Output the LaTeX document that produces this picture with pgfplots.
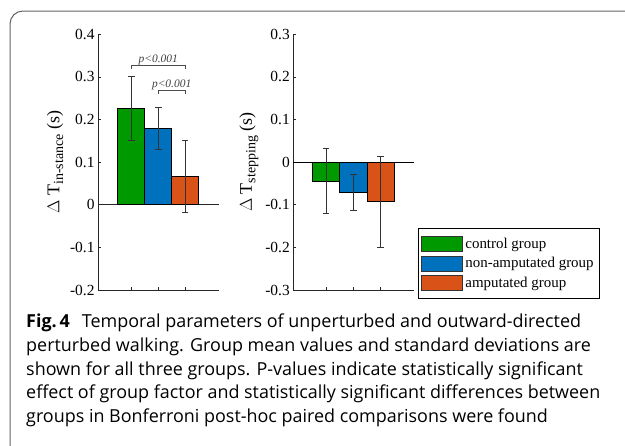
\documentclass[border=0pt]{standalone}
\usepackage{pgfplots}
\pgfplotsset{compat=1.18}
\usepackage{fontspec}
\setmainfont{Liberation Serif}
\newfontfamily\capfont{Open Sans}

\definecolor{cgreen}{RGB}{0,153,0}
\definecolor{cblue}{RGB}{0,114,189}
\definecolor{corange}{RGB}{217,83,25}
\definecolor{frame}{RGB}{100,100,100}

\pgfplotsset{
  barax/.style={
    scale only axis, width=121bp, height=255.7bp,
    axis x line*=bottom, axis y line*=left,
    axis line style={line width=0.8bp, black!85},
    tick style={line width=0.8bp, black!85},
    tick align=inside, major tick length=3bp,
    xtick={1,2,3}, xticklabels={},
    tick label style={font=\fontsize{15.5}{16}\selectfont},
    label style={font=\fontsize{18}{18}\selectfont},
    clip=false,
  },
  bars/.style={
    ybar, bar width=1, bar shift=0pt, draw=black, line width=0.8bp,
    error bars/y dir=both, error bars/y explicit,
    error bars/error bar style={line width=0.8bp, black!80},
    error bars/error mark options={rotate=90, mark size=3.3bp, line width=0.8bp, black!80},
  },
}

\begin{document}
\begin{tikzpicture}
\useasboundingbox (0,0) rectangle (625bp,-446bp);
\draw[frame, line width=1bp] (10bp,-446bp) -- (10bp,-24bp)
  arc[start angle=180, end angle=90, radius=13bp] -- (625bp,-11bp);

% left panel: in-stance
\begin{axis}[barax,
  at={(98bp,-290bp)}, anchor=south west,
  xmin=-0.238, xmax=4.26, ymin=-0.2, ymax=0.4,
  ytick={-0.2,-0.1,0,0.1,0.2,0.3,0.4},
  yticklabels={-0.2,-0.1,0,0.1,0.2,0.3,0.4},
  ylabel={$\Delta$ T\raisebox{-0.45ex}{\fontsize{14}{14}\selectfont in-stance} (s)},
]
\draw[black!85, line width=0.8bp] (axis cs:-0.238,0) -- (axis cs:4.26,0);
\addplot[bars, fill=cgreen] coordinates {(1,0.226) +- (0,0.076)};
\addplot[bars, fill=cblue] coordinates {(2,0.179) +- (0,0.049)};
\addplot[bars, fill=corange] coordinates {(3,0.066) +- (0,0.084)};
% significance brackets
\draw[black!70, line width=0.7bp] (axis cs:1,0.318) -- (axis cs:1,0.327) -- (axis cs:3,0.327) -- (axis cs:3,0.318);
\node[anchor=base, black!75, font=\fontsize{11.5}{12}\selectfont\itshape] at (axis cs:2,0.333) {p<0.001};
\draw[black!70, line width=0.7bp] (axis cs:2,0.260) -- (axis cs:2,0.269) -- (axis cs:3,0.269) -- (axis cs:3,0.260);
\node[anchor=base, black!75, font=\fontsize{11.5}{12}\selectfont\itshape] at (axis cs:2.5,0.275) {p<0.001};
\end{axis}

% right panel: stepping
\begin{axis}[barax,
  at={(293.3bp,-290bp)}, anchor=south west,
  xmin=-0.204, xmax=4.24, ymin=-0.3, ymax=0.3,
  ytick={-0.3,-0.2,-0.1,0,0.1,0.2,0.3},
  yticklabels={-0.3,-0.2,-0.1,0,0.1,0.2,0.3},
  ylabel={$\Delta$ T\raisebox{-0.45ex}{\fontsize{14}{14}\selectfont stepping} (s)},
  legend image code/.code={\draw[#1] (2bp,-7.5bp) rectangle (43bp,7.5bp);},
  legend cell align=left,
  legend style={at={(1.028,-0.036)}, anchor=south west, draw=black,
    line width=0.8bp, fill=white, inner xsep=3bp, inner ysep=7bp,
    row sep=3bp, font=\fontsize{15}{16}\selectfont,
    nodes={inner sep=2.5bp}},
]
\draw[black, line width=0.8bp] (axis cs:-0.204,0) -- (axis cs:4.24,0);
\addplot[bars, fill=cgreen, forget plot] coordinates {(1,-0.044) +- (0,0.076)};
\addplot[bars, fill=cblue, forget plot] coordinates {(2,-0.071) +- (0,0.042)};
\addplot[bars, fill=corange, forget plot] coordinates {(3,-0.093) +- (0,0.106)};
\addlegendimage{fill=cgreen, draw=black!80, line width=0.8bp}
\addlegendentry{control group}
\addlegendimage{fill=cblue, draw=black!80, line width=0.8bp}
\addlegendentry{non-amputated group}
\addlegendimage{fill=corange, draw=black!80, line width=0.8bp}
\addlegendentry{amputated group}
\end{axis}

% caption
\begin{scope}[every node/.style={anchor=base west, inner sep=0pt, font=\capfont\fontsize{18}{24}\selectfont}]
\node at (26bp,-327.7bp) {\textbf{Fig.\,4}\hspace{12bp}Temporal parameters of unperturbed and outward-directed};
\node at (26bp,-351.3bp) {perturbed walking. Group mean values and standard deviations are};
\node at (26bp,-375bp) {shown for all three groups. P-values indicate statistically significant};
\node at (26bp,-398.6bp) {effect of group factor and statistically significant differences between};
\node at (26bp,-422.2bp) {groups in Bonferroni post-hoc paired comparisons were found};
\end{scope}
\end{tikzpicture}
\end{document}
